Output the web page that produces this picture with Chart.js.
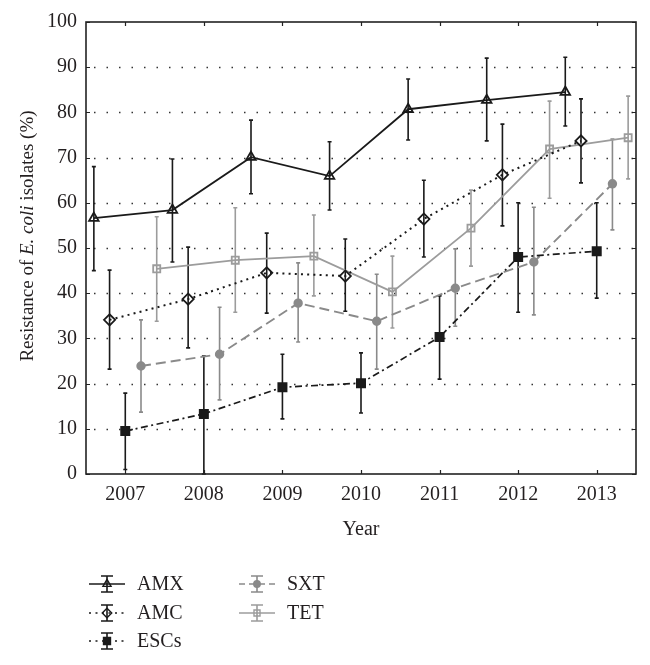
<!DOCTYPE html>
<html>
<head>
<meta charset="utf-8">
<script src="https://cdn.jsdelivr.net/npm/chart.js@4"></script>
<style>
  html, body { margin: 0; padding: 0; background: #fff; }
  #wrap { width: 650px; height: 665px; }
</style>
</head>
<body>
<div id="wrap"><canvas id="grafica" width="650" height="665"></canvas></div>
<script>
// datos
const anios = [2007, 2008, 2009, 2010, 2011, 2012, 2013];
const yTicks = [0, 10, 20, 30, 40, 50, 60, 70, 80, 90, 100];
const series = ['AMX', 'AMC', 'ESCs', 'SXT', 'TET'];
const desplaz = [-0.4, -0.2, 0, 0.2, 0.4];

const amx = [56.6, 58.4, 70.1, 65.9, 80.7, 82.7, 84.5];
const amxBajo = [45, 46.9, 62, 58.4, 73.9, 73.7, 77];
const amxAlto = [68, 69.7, 78.3, 73.5, 87.4, 92, 92.2];

const amc = [34.1, 38.7, 44.5, 43.8, 56.4, 66.2, 73.7];
const amcBajo = [23.2, 27.9, 35.6, 36, 48, 54.9, 64.4];
const amcAlto = [45.1, 50.2, 53.3, 52, 65, 77.4, 83];

const escs = [9.5, 13.3, 19.2, 20.1, 30.3, 48, 49.3];
const escsBajo = [1, 0, 12.2, 13.5, 21, 35.8, 38.9];
const escsAlto = [17.9, 26.1, 26.5, 26.8, 39.4, 60, 60];

const sxt = [23.9, 26.5, 37.8, 33.8, 41.1, 46.9, 64.2];
const sxtBajo = [13.7, 16.4, 29.2, 23.2, 32.7, 35.2, 54];
const sxtAlto = [34.1, 36.9, 46.7, 44.2, 49.8, 59, 74.1];

const tet = [45.4, 47.3, 48.2, 40.3, 54.4, 71.9, 74.4];
const tetBajo = [33.8, 35.8, 39.4, 32.3, 46, 61, 65.3];
const tetAlto = [56.9, 58.9, 57.3, 48.2, 62.8, 82.5, 83.6];

const FUENTE = '"Liberation Serif", "DejaVu Serif", serif';
const NEGRO = '#1a1a1a';
const GRIS1 = '#8a8a8a';
const GRIS2 = '#9c9c9c';

const estilos = [
  { color: NEGRO, dash: [], leyenda: [], pointStyle: 'triangle', radius: 5.5, fill: 'rgba(0,0,0,0)', ancho: 1.8 },
  { color: NEGRO, dash: [2, 4.2], leyenda: [2, 4.5], pointStyle: 'rectRot', radius: 5.6, fill: 'rgba(0,0,0,0)', ancho: 2 },
  { color: NEGRO, dash: [7, 3.5, 2, 3.5], leyenda: [2, 4.5], pointStyle: 'rect', radius: 5.8, fill: NEGRO, ancho: 1.7 },
  { color: GRIS1, dash: [10, 5], leyenda: [6, 4], pointStyle: 'circle', radius: 3.8, fill: GRIS1, ancho: 1.9 },
  { color: GRIS2, dash: [], leyenda: [], pointStyle: 'rect', radius: 5, fill: 'rgba(0,0,0,0)', ancho: 1.8 }
];

const valores = [amx, amc, escs, sxt, tet];
const bajos = [amxBajo, amcBajo, escsBajo, sxtBajo, tetBajo];
const altos = [amxAlto, amcAlto, escsAlto, sxtAlto, tetAlto];

const datasets = series.map((nombre, i) => ({
  label: nombre,
  data: anios.map((a, j) => ({ x: a + desplaz[i], y: valores[i][j], lo: bajos[i][j], hi: altos[i][j] })),
  showLine: true,
  borderColor: estilos[i].color,
  borderWidth: estilos[i].ancho,
  borderDash: estilos[i].dash,
  pointStyle: estilos[i].pointStyle,
  pointRadius: estilos[i].radius,
  pointHoverRadius: estilos[i].radius,
  pointBorderColor: estilos[i].color,
  pointBackgroundColor: estilos[i].fill,
  pointBorderWidth: 1.8,
  tension: 0
}));

// barras de error, marco, rejilla, titulos y leyenda
const extras = {
  id: 'extras',
  beforeDatasetsDraw(chart) {
    const ctx = chart.ctx;
    const a = chart.chartArea;
    const xs = chart.scales.x;
    const ys = chart.scales.y;
    ctx.save();
    // rejilla punteada
    ctx.strokeStyle = '#333';
    ctx.lineWidth = 1.4;
    ctx.setLineDash([1.5, 11]);
    yTicks.forEach(v => {
      if (v === 0 || v === 100) return;
      const y = Math.round(ys.getPixelForValue(v)) + 0.5;
      ctx.beginPath();
      ctx.moveTo(a.left + 8, y);
      ctx.lineTo(a.right, y);
      ctx.stroke();
    });
    ctx.setLineDash([]);
    // barras de error
    chart.data.datasets.forEach((ds, i) => {
      ctx.strokeStyle = estilos[i].color;
      ctx.lineWidth = 1.6;
      ds.data.forEach(p => {
        const x = xs.getPixelForValue(p.x);
        const y1 = ys.getPixelForValue(p.lo);
        const y2 = ys.getPixelForValue(p.hi);
        ctx.beginPath();
        ctx.moveTo(x, y1); ctx.lineTo(x, y2);
        ctx.moveTo(x - 2, y1); ctx.lineTo(x + 2, y1);
        ctx.moveTo(x - 2, y2); ctx.lineTo(x + 2, y2);
        ctx.stroke();
      });
    });
    ctx.restore();
  },
  afterDraw(chart) {
    const ctx = chart.ctx;
    const a = chart.chartArea;
    const xs = chart.scales.x;
    const ys = chart.scales.y;
    ctx.save();
    // marco
    ctx.strokeStyle = '#222';
    ctx.lineWidth = 1.6;
    ctx.setLineDash([]);
    ctx.strokeRect(a.left, a.top, a.right - a.left, a.bottom - a.top);
    ctx.lineWidth = 1.2;
    ctx.beginPath();
    anios.forEach(v => {
      const x = Math.round(xs.getPixelForValue(v)) + 0.5;
      ctx.moveTo(x, a.bottom); ctx.lineTo(x, a.bottom - 4);
      ctx.moveTo(x, a.top); ctx.lineTo(x, a.top + 4);
    });
    yTicks.forEach(v => {
      const y = Math.round(ys.getPixelForValue(v)) + 0.5;
      ctx.moveTo(a.left, y); ctx.lineTo(a.left + 4, y);
      ctx.moveTo(a.right, y); ctx.lineTo(a.right - 4, y);
    });
    ctx.stroke();

    // titulos de ejes
    ctx.fillStyle = '#231f20';
    ctx.font = '20px ' + FUENTE;
    ctx.textAlign = 'center';
    ctx.textBaseline = 'middle';
    ctx.fillText('Year', (a.left + a.right) / 2, 530);

    const partes = [
      { t: 'Resistance of ', f: '19px ' + FUENTE },
      { t: 'E. coli', f: 'italic 19px ' + FUENTE },
      { t: ' isolates (%)', f: '19px ' + FUENTE }
    ];
    let total = 0;
    partes.forEach(p => { ctx.font = p.f; p.w = ctx.measureText(p.t).width; total += p.w; });
    ctx.translate(28, 236);
    ctx.rotate(-Math.PI / 2);
    ctx.textAlign = 'left';
    let px = -total / 2;
    partes.forEach(p => { ctx.font = p.f; ctx.fillText(p.t, px, 0); px += p.w; });
    ctx.setTransform(1, 0, 0, 1, 0, 0);

    // leyenda
    const posiciones = [[107, 584], [107, 613], [107, 641], [257, 584], [257, 613]];
    series.forEach((nombre, i) => {
      const [cx, cy] = posiciones[i];
      const e = estilos[i];
      ctx.strokeStyle = e.color;
      ctx.lineWidth = 1.6;
      ctx.setLineDash(e.leyenda);
      ctx.beginPath();
      ctx.moveTo(cx - 18, cy); ctx.lineTo(cx + 18, cy);
      ctx.stroke();
      ctx.setLineDash([]);
      ctx.beginPath();
      ctx.moveTo(cx, cy - 8); ctx.lineTo(cx, cy + 8);
      ctx.moveTo(cx - 6, cy - 8); ctx.lineTo(cx + 6, cy - 8);
      ctx.moveTo(cx - 6, cy + 8); ctx.lineTo(cx + 6, cy + 8);
      ctx.stroke();
      ctx.fillStyle = e.fill;
      ctx.strokeStyle = e.color;
      ctx.lineWidth = 1.4;
      Chart.helpers.drawPoint(ctx, { pointStyle: e.pointStyle, radius: e.radius * 0.85, borderWidth: 1.4, rotation: 0 }, cx, cy);
      ctx.fillStyle = '#231f20';
      ctx.font = '20px ' + FUENTE;
      ctx.textAlign = 'left';
      ctx.textBaseline = 'middle';
      ctx.fillText(nombre, cx + 30, cy + 1);
    });
    ctx.restore();
  }
};

new Chart(document.getElementById('grafica'), {
  type: 'scatter',
  data: { datasets },
  options: {
    responsive: false,
    animation: false,
    events: [],
    layout: { padding: { top: 22, right: 14, left: 0, bottom: 0 } },
    plugins: { legend: { display: false }, tooltip: { enabled: false } },
    scales: {
      x: {
        type: 'linear',
        min: 2006.5,
        max: 2013.5,
        afterBuildTicks: s => { s.ticks = anios.map(v => ({ value: v })); },
        afterFit: s => { s.height = 191; },
        grid: { display: false, drawTicks: false },
        border: { display: false },
        ticks: {
          padding: 9,
          color: '#231f20',
          font: { family: FUENTE, size: 20 },
          callback: v => String(v),
          maxRotation: 0,
          autoSkip: false
        }
      },
      y: {
        min: 0,
        max: 100,
        afterBuildTicks: s => { s.ticks = yTicks.map(v => ({ value: v })); },
        afterFit: s => { s.width = 86; },
        grid: { display: false, drawTicks: false },
        border: { display: false },
        ticks: {
          padding: 9,
          color: '#231f20',
          font: { family: FUENTE, size: 20 }
        }
      }
    }
  },
  plugins: [extras]
});
</script>
</body>
</html>
